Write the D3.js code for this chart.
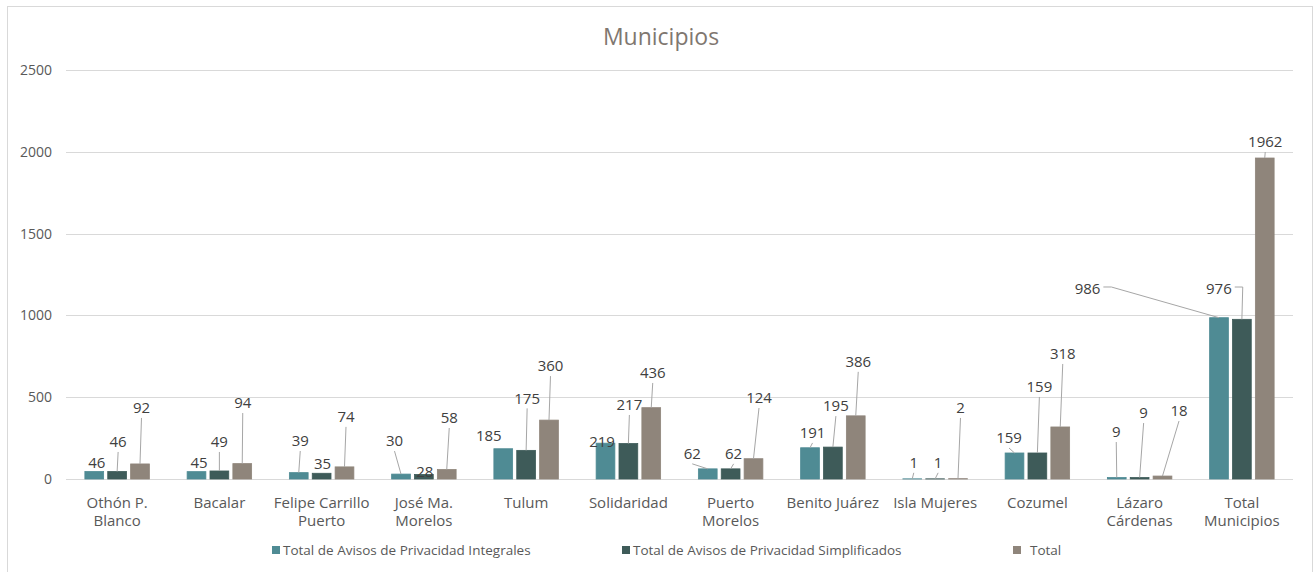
<!DOCTYPE html>
<html><head><meta charset="utf-8">
<script src="https://cdn.jsdelivr.net/npm/d3@7"></script>
<style>
html,body{margin:0;padding:0;background:#fff;}
svg{display:block;font-family:"Open Sans",sans-serif;}
</style></head>
<body>
<svg id="c" width="1316" height="572"></svg>
<script>
// ---- data ----
const categories = ["Othón P.\nBlanco","Bacalar","Felipe Carrillo\nPuerto","José Ma.\nMorelos","Tulum","Solidaridad","Puerto\nMorelos","Benito  Juárez","Isla Mujeres","Cozumel","Lázaro\nCárdenas","Total\nMunicipios"];
const seriesNames = ["Total de Avisos de Privacidad Integrales","Total de Avisos de Privacidad Simplificados","Total"];
const integrales    = [46,45,39,30,185,219,62,191,1,159,9,986];
const simplificados = [46,49,35,28,175,217,62,195,1,159,9,976];
const totales       = [92,94,74,58,360,436,124,386,2,318,18,1962];
const yTicks = [0,500,1000,1500,2000,2500];
const title = "Municipios";

// ---- layout (label offsets from bar top, px) ----
const labelOffsets = [
  [[2.5,-8.5],[1,-29.5],[1.5,-56]],
  [[2.5,-8.6],[0,-29],[0.5,-60.6]],
  [[1.5,-31.6],[1,-10],[1.5,-50]],
  [[-6.5,-33],[1,-3],[2.5,-51.5]],
  [[-14.5,-12.7],[1,-52],[1.5,-54]],
  [[-3.5,-1],[1,-38.5],[1.5,-34.7]],
  [[-15.5,-15],[3,-15],[5.5,-60.7]],
  [[2.5,-14.8],[3,-41],[2.5,-54]],
  [[1.5,-16],[3,-16],[2.5,-70.7]],
  [[-5.5,-15],[2,-66],[2.5,-73]],
  [[-0.5,-45.5],[4,-64.5],[16.5,-65]],
  [[-131.5,-28.7],[-23,-30.3],[0.5,-16]]
];
const elbow = {"11-0":true,"11-1":true};
const colors = ["#4f8b94","#3e5b59","#8f857b"];

const svg = d3.select("#c");
const W = 1316, H = 572;
svg.append("rect").attr("x",7.5).attr("y",6.5).attr("width",1305).attr("height",H)
  .attr("fill","#fff").attr("stroke","#d9d9d9");

const plot = {l:66, r:1293, t:70, b:479};
const x = d3.scaleBand().domain(categories).range([plot.l, plot.r]).padding(0);
const y = d3.scaleLinear().domain([0,2500]).range([plot.b, plot.t]);
const sub = d3.scaleBand().domain([0,1,2]).range([-32.25,32.25]).paddingInner(0.18);

// title
svg.append("text").attr("x",661).attr("y",45).attr("text-anchor","middle")
  .attr("font-size",23).attr("fill","#7f7770").text(title);

// grid
svg.append("g").selectAll("line").data(yTicks).join("line")
  .attr("x1",plot.l).attr("x2",plot.r).attr("y1",d=>Math.round(y(d))+0.5).attr("y2",d=>Math.round(y(d))+0.5)
  .attr("stroke","#d9d9d9").attr("stroke-width",1);

// y axis labels via axis
const yAxis = svg.append("g").attr("transform",`translate(${plot.l},0)`)
  .call(d3.axisLeft(y).tickValues(yTicks).tickSize(0).tickPadding(14).tickFormat(d3.format("d")));
yAxis.select(".domain").remove();
yAxis.selectAll("text").attr("font-size",14).attr("fill","#595959").attr("font-family","'Open Sans',sans-serif");

const series = [integrales, simplificados, totales];
const bw = sub.bandwidth();

// bars
series.forEach((vals,s)=>{
  svg.append("g").selectAll("rect").data(vals).join("rect")
    .attr("x",(d,i)=>x(categories[i])+x.bandwidth()/2+sub(s))
    .attr("width",bw)
    .attr("y",d=>y(d)).attr("height",d=>y(0)-y(d))
    .attr("fill",colors[s]).attr("stroke",colors[s]).attr("stroke-width",0.8);
});

// labels + leader lines
const lg = svg.append("g");
series.forEach((vals,s)=>{
  vals.forEach((v,i)=>{
    const bx = x(categories[i])+x.bandwidth()/2+sub(s)+bw/2;
    const by = y(v);
    const [dx,dy] = labelOffsets[i][s];
    const lx = bx+dx, ly = by+dy;
    const t = lg.append("text").attr("x",lx).attr("y",ly).attr("dy","0.35em")
      .attr("text-anchor","middle").attr("font-size",15).attr("fill","#404040").text(v);
    if (elbow[i+"-"+s]) {
      const tw = t.node().getComputedTextLength();
      const sx = lx+tw/2+3, sy = ly-2;
      lg.append("polyline").attr("points",`${sx},${sy} ${sx+8},${sy} ${bx},${by}`)
        .attr("fill","none").attr("stroke","#a6a6a6").attr("stroke-width",1);
    } else if (ly+10 < by-3) {
      lg.append("line").attr("x1",lx).attr("y1",ly+10).attr("x2",bx).attr("y2",by)
        .attr("stroke","#a6a6a6").attr("stroke-width",1);
    }
  });
});

// category labels
const cg = svg.append("g");
categories.forEach(c=>{
  const lines = c.split("\n");
  const t = cg.append("text").attr("x",x(c)+x.bandwidth()/2).attr("y",508)
    .attr("text-anchor","middle").attr("font-size",15).attr("fill","#595959");
  lines.forEach((ln,k)=>t.append("tspan").attr("x",x(c)+x.bandwidth()/2).attr("dy",k?18:0).text(ln));
});

// legend
const legX = [272, 622, 1013];
const legTx = [283, 633, 1030];
seriesNames.forEach((n,s)=>{
  svg.append("rect").attr("x",legX[s]).attr("y",546).attr("width",8).attr("height",8).attr("fill",colors[s]);
  svg.append("text").attr("x",legTx[s]).attr("y",555).attr("font-size",13.5).attr("fill","#595959").text(n);
});
</script>
</body></html>
